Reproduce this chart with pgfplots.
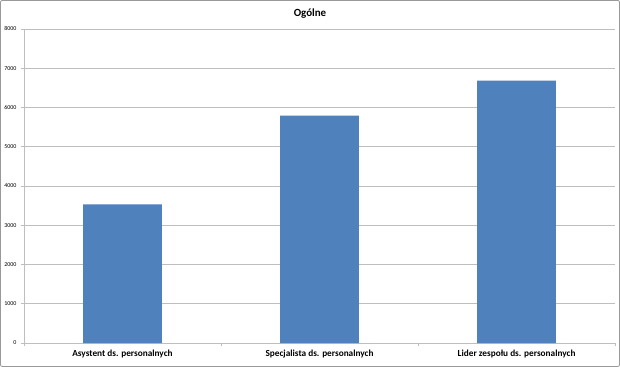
\documentclass[border=0pt]{standalone}
\usepackage{pgfplots}
\pgfplotsset{compat=1.18}
\usepackage{fontspec}
\setmainfont{Carlito}
\definecolor{barblue}{RGB}{79,129,189}
\definecolor{gridgray}{RGB}{190,190,190}
\begin{document}
\begin{tikzpicture}[x=1bp,y=1bp]
\draw[draw=gray!80, rounded corners=2bp, fill=white, line width=0.8bp] (0.5,0.5) rectangle (619.5,366.5);
\node[font=\fontsize{11}{12}\selectfont\bfseries] at (310,353) {Ogólne};
\begin{axis}[
  at={(24bp,24bp)}, anchor=south west,
  scale only axis, width=591bp, height=314bp,
  ybar, bar width=0.4,
  xmin=-0.5, xmax=2.5, ymin=0, ymax=8000,
  xtick={0,1,2},
  xticklabels={Asystent ds. personalnych, Specjalista ds. personalnych, Lider zespołu ds. personalnych},
  minor xtick={-0.5,0.5,1.5,2.5},
  xticklabel style={font=\fontsize{9.3}{10}\selectfont\bfseries, yshift=-0.5bp},
  ytick={0,1000,...,8000},
  yticklabel style={font=\fontsize{6}{7}\selectfont, xshift=-1bp},
  /pgf/number format/assume math mode=true,
  scaled y ticks=false,
  yticklabel={\pgfmathprintnumber[fixed,1000 sep={}]{\tick}},
  ymajorgrids, grid style={gridgray, line width=0.6bp},
  axis x line*=bottom, axis y line*=left,
  axis line style={gridgray, line width=0.6bp},
  x axis line style={-}, y axis line style={-},
  major x tick style={draw=none},
  minor x tick style={gridgray, line width=0.6bp},
  minor tick length=3bp,
  major tick length=3bp,
  ytick style={gridgray, line width=0.6bp},
  tick align=outside,
  enlargelimits=false,
  clip=false,
]
\addplot[fill=barblue, draw=none] coordinates {(0,3530) (1,5790) (2,6680)};
\end{axis}
\end{tikzpicture}
\end{document}
